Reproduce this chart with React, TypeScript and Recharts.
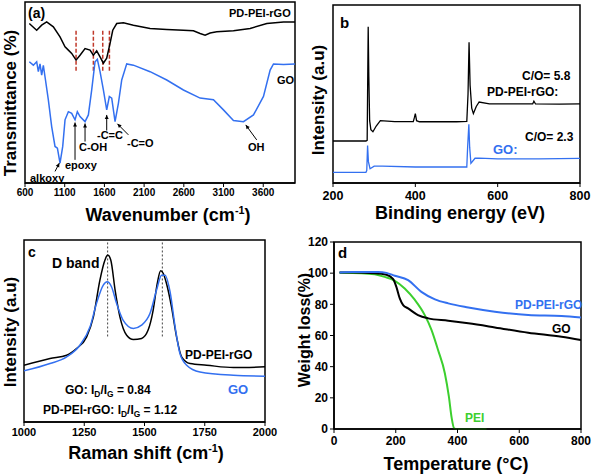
import React from 'react';
import { LineChart, Line, XAxis, YAxis, ReferenceLine, ReferenceArea } from 'recharts';

// (a) FTIR
const ftirRgoX = [654, 747, 810, 873, 957, 1041, 1104, 1146, 1188, 1243, 1293, 1356, 1419, 1461, 1503, 1545, 1587, 1629, 1671, 1705, 1755, 1839, 1965, 2175, 2385, 2595, 2721, 2805, 2868, 2931, 3015, 3225, 3435, 3645, 3855, 4000];
const ftirRgoY = [88.1, 84.4, 87.2, 89.0, 86.3, 80.7, 75.2, 73.4, 71.6, 67.9, 70.6, 74.3, 73.4, 70.6, 73.0, 69.7, 66.2, 69.0, 77.1, 84.4, 88.1, 88.5, 87.2, 85.4, 84.8, 84.4, 84.1, 82.6, 81.7, 82.9, 83.5, 84.1, 85.4, 88.1, 89.0, 89.0];
const ftirGoX = [654, 705, 747, 768, 789, 810, 831, 852, 894, 936, 978, 1008, 1041, 1075, 1104, 1146, 1188, 1230, 1259, 1293, 1356, 1398, 1440, 1482, 1511, 1545, 1587, 1629, 1662, 1692, 1734, 1776, 1818, 1881, 1965, 2175, 2385, 2595, 2805, 2973, 3099, 3225, 3351, 3477, 3603, 3687, 3729, 3855, 4000];
const ftirGoY = [67.0, 65.1, 67.0, 61.5, 65.8, 59.6, 65.0, 58.7, 45.9, 31.2, 20.2, 19.3, 11.0, 20.2, 34.9, 39.4, 38.5, 34.9, 39.4, 36.7, 33.9, 37.6, 51.4, 67.0, 68.3, 61.5, 51.4, 40.4, 47.8, 46.9, 33.9, 44.0, 56.9, 65.8, 65.1, 61.5, 56.9, 51.4, 46.9, 46.0, 40.4, 34.5, 33.9, 37.6, 47.8, 62.4, 65.8, 65.5, 65.8];
const ftirTicks = [600, 1100, 1600, 2100, 2600, 3100, 3600];
const ftirMarks = [1243, 1461, 1579, 1663];
// arrows: [x1, y1, x2, y2]
const ftirArrows = [
  [978, 6.4, 1033, 11.0],
  [1230, 12.8, 1230, 33.4],
  [1356, 22.9, 1356, 32.9],
  [1629, 29.0, 1629, 37.6],
  [1902, 26.6, 1764, 32.7],
  [3518, 23.8, 3380, 32.1],
];

// (b) XPS
const xpsRgoX = [200, 280, 283, 284, 285.5, 287, 289, 292, 297, 305, 315, 350, 395, 398, 400, 403, 410, 500, 525, 528, 530.5, 533, 537, 541, 548, 555, 580, 650, 685, 688, 692, 750, 800];
const xpsRgoY = [23.6, 23.6, 24, 50, 87.8, 60, 35, 30, 28.8, 32, 35, 34.5, 34.5, 37, 39, 35, 34.4, 34.4, 34.6, 50, 79, 55, 42, 39, 43, 45.5, 44.5, 44.4, 44.4, 46, 44.4, 44.3, 44.4];
const xpsGoX = [200, 280, 282, 284, 286, 290, 300, 320, 400, 500, 525, 527, 530, 532, 535, 545, 555, 600, 700, 800];
const xpsGoY = [6, 6, 7, 21, 12, 8, 9.5, 9.5, 9, 9, 9, 20, 33, 20, 11, 13.9, 14, 13.5, 13.5, 13.8];
const xpsTicks = [200, 400, 600, 800];

// (c) Raman
const ramRgoX = [1000, 1108, 1177, 1218, 1260, 1288, 1315, 1336, 1347, 1360, 1378, 1398, 1426, 1454, 1488, 1515, 1536, 1553, 1567, 1578, 1591, 1612, 1633, 1654, 1689, 1758, 1869, 2000];
const ramRgoY = [31.2, 34.9, 36.7, 40.4, 46.8, 57.8, 78.0, 89.0, 91.7, 89.0, 72.5, 57.8, 47.7, 45.3, 45.9, 50.5, 61.5, 76.2, 83.1, 81.6, 76.2, 63.3, 46.8, 35.8, 32.1, 31.2, 29.9, 30.3];
const ramGoX = [1000, 1108, 1177, 1232, 1274, 1301, 1329, 1345, 1363, 1384, 1411, 1454, 1488, 1523, 1550, 1571, 1585, 1606, 1627, 1647, 1675, 1730, 1869, 2000];
const ramGoY = [28.1, 32.1, 35.8, 42.2, 52.3, 65.2, 75.2, 77.0, 74.3, 65.2, 56.0, 51.4, 53.2, 59.7, 72.5, 80.7, 80.7, 71.6, 52.3, 37.6, 31.2, 27.5, 25.7, 25.2];
const ramTicks = [1000, 1250, 1500, 1750, 2000];
const ramBands = [1347, 1574];

// (d) TGA
const tgaRgoX = [18, 62, 143, 170, 197, 240, 283, 327, 370, 435, 521, 629, 737, 800];
const tgaRgoY = [100.5, 100.8, 100.8, 100.2, 98.3, 95.5, 88.0, 83.2, 80.6, 78.0, 75.3, 73.1, 72.5, 71.6];
const tgaGoX = [18, 62, 132, 170, 191, 202, 213, 224, 240, 272, 305, 370, 435, 521, 629, 737, 800];
const tgaGoY = [100.4, 100.4, 100, 99, 96.3, 91.2, 83.8, 79.5, 77.4, 73.1, 71.0, 69.5, 67.8, 65.2, 61.8, 59.2, 57.1];
const tgaPeiX = [18, 89, 132, 164, 197, 229, 262, 294, 316, 337, 359, 372, 381, 389, 397, 494];
const tgaPeiY = [100.2, 100, 99.3, 97.6, 95.1, 90.2, 82.8, 73.1, 63.5, 50.7, 35.8, 20.9, 7.3, 0.5, 0, 0];
const tgaXTicks = [0, 200, 400, 600, 800];
const tgaYTicks = [0, 20, 40, 60, 80, 100, 120];

const BLUE = '#3370f0';
const GREEN = '#3ccf2e';
const FONT = '"Liberation Sans", Arial, sans-serif';

const zip = (xs: number[], ys: number[]) => xs.map((x, i) => ({ x, y: ys[i] }));

const axisLine = { stroke: '#000', strokeWidth: 1.5 };

const Arrow = (p: any) => {
  const { x1, y1, x2, y2 } = p;
  const a = Math.atan2(y2 - y1, x2 - x1);
  const h = 4.5;
  const pts = [
    [x2, y2],
    [x2 - h * Math.cos(a - 0.45), y2 - h * Math.sin(a - 0.45)],
    [x2 - h * Math.cos(a + 0.45), y2 - h * Math.sin(a + 0.45)],
  ];
  return (
    <g>
      <line x1={x1} y1={y1} x2={x2} y2={y2} stroke="#000" strokeWidth={1} />
      <polygon points={pts.map((q) => q.join(',')).join(' ')} fill="#000" />
    </g>
  );
};

const Txt = ({ x, y, size, color = '#000', children }: any) => (
  <div style={{ position: 'absolute', left: x, top: y - size / 2, fontSize: size, lineHeight: 1, color, fontWeight: 'bold', whiteSpace: 'nowrap' }}>
    {children}
  </div>
);

const VTxt = ({ x, y, size, children }: any) => (
  <div style={{ position: 'absolute', left: x, top: y, fontSize: size, lineHeight: 1, fontWeight: 'bold', whiteSpace: 'nowrap', transform: 'translate(-50%, -50%) rotate(-90deg)' }}>
    {children}
  </div>
);

const HTxt = ({ x, y, size, children }: any) => (
  <div style={{ position: 'absolute', left: x, top: y, fontSize: size, lineHeight: 1, fontWeight: 'bold', whiteSpace: 'nowrap', transform: 'translate(-50%, -50%)' }}>
    {children}
  </div>
);

const sup = { fontSize: '0.6em', verticalAlign: 'super' as const };
const sub = { fontSize: '0.7em', verticalAlign: 'sub' as const };

// box around the plot area, drawn in data coordinates
const frame = (xd: number[], yd: number[]) => (
  <ReferenceArea x1={xd[0]} x2={xd[1]} y1={yd[0]} y2={yd[1]} fill="none" fillOpacity={0} stroke="#000" strokeWidth={1.5} ifOverflow="visible" />
);

const App = () => {
  const tick = (size: number) => ({ fontSize: size, fontWeight: 'bold', fill: '#000', fontFamily: FONT });
  return (
    <div style={{ position: 'absolute', left: 0, top: 0, width: 592, height: 474, background: '#fff', fontFamily: FONT, overflow: 'hidden' }}>
      {/* (a) */}
      <div style={{ position: 'absolute', left: 0, top: 0 }}>
        <LineChart width={300} height={230} margin={{ top: 2, right: 5, bottom: 27, left: 25 }}>
          <XAxis dataKey="x" type="number" domain={[600, 4000]} ticks={ftirTicks} allowDataOverflow height={20} axisLine={axisLine} tickLine={{ stroke: '#000' }} tickSize={4} tickMargin={2} tick={tick(10)} />
          <YAxis type="number" domain={[0, 100]} width={0} tick={false} tickLine={false} axisLine={axisLine} />
          {frame([600, 4000], [0, 100])}
          {ftirMarks.map((m) => (
            <ReferenceLine key={m} segment={[{ x: m, y: 62 }, { x: m, y: 85 }]} stroke="#c0392b" strokeWidth={1.5} strokeDasharray="4 2" />
          ))}
          {ftirArrows.map((a, i) => (
            <ReferenceLine key={'ar' + i} segment={[{ x: a[0], y: a[1] }, { x: a[2], y: a[3] }]} shape={Arrow} />
          ))}
          <Line data={zip(ftirRgoX, ftirRgoY)} dataKey="y" stroke="#000" strokeWidth={1.5} dot={false} isAnimationActive={false} type="linear" />
          <Line data={zip(ftirGoX, ftirGoY)} dataKey="y" stroke={BLUE} strokeWidth={1.5} dot={false} isAnimationActive={false} type="linear" />
        </LineChart>
      </div>
      <Txt x={28} y={13} size={14}>(a)</Txt>
      <Txt x={229} y={13} size={11}>PD-PEI-rGO</Txt>
      <Txt x={277} y={80} size={11}>GO</Txt>
      <Txt x={30} y={178} size={11}>alkoxy</Txt>
      <Txt x={65} y={165} size={11}>epoxy</Txt>
      <Txt x={79} y={147} size={11}>C-OH</Txt>
      <Txt x={97} y={135} size={11}>-C=C</Txt>
      <Txt x={127} y={143} size={11}>-C=O</Txt>
      <Txt x={248} y={147} size={11}>OH</Txt>
      <VTxt x={10} y={103} size={17}>Transmittance (%)</VTxt>
      <HTxt x={168} y={214} size={18}>Wavenumber (cm<span style={sup}>-1</span>)</HTxt>

      {/* (b) */}
      <div style={{ position: 'absolute', left: 295, top: 0 }}>
        <LineChart width={297} height={230} margin={{ top: 5, right: 12, bottom: 27, left: 38 }}>
          <XAxis dataKey="x" type="number" domain={[200, 800]} ticks={xpsTicks} allowDataOverflow height={20} axisLine={axisLine} tickLine={{ stroke: '#000' }} tickSize={4} tickMargin={4} tick={tick(12.5)} />
          <YAxis type="number" domain={[0, 100]} width={0} tick={false} tickLine={false} axisLine={axisLine} />
          {frame([200, 800], [0, 100])}
          <Line data={zip(xpsRgoX, xpsRgoY)} dataKey="y" stroke="#000" strokeWidth={1.3} dot={false} isAnimationActive={false} type="linear" />
          <Line data={zip(xpsGoX, xpsGoY)} dataKey="y" stroke={BLUE} strokeWidth={1.3} dot={false} isAnimationActive={false} type="linear" />
        </LineChart>
      </div>
      <Txt x={340} y={22} size={15}>b</Txt>
      <Txt x={522} y={76} size={12}>C/O= 5.8</Txt>
      <Txt x={487} y={92} size={12}>PD-PEI-rGO:</Txt>
      <Txt x={525} y={137} size={12}>C/O= 2.3</Txt>
      <Txt x={493} y={149} size={13} color={BLUE}>GO:</Txt>
      <VTxt x={318} y={100} size={17}>Intensity (a.u)</VTxt>
      <HTxt x={460} y={213} size={18}>Binding energy (eV)</HTxt>

      {/* (c) */}
      <div style={{ position: 'absolute', left: 0, top: 230 }}>
        <LineChart width={300} height={244} margin={{ top: 10, right: 35, bottom: 32, left: 24 }}>
          <XAxis dataKey="x" type="number" domain={[1000, 2000]} ticks={ramTicks} allowDataOverflow height={20} axisLine={axisLine} tickLine={{ stroke: '#000' }} tickSize={4} tickMargin={2} tick={tick(11)} />
          <YAxis type="number" domain={[0, 100]} width={0} tick={false} tickLine={false} axisLine={axisLine} />
          {frame([1000, 2000], [0, 100])}
          {ramBands.map((b) => (
            <ReferenceLine key={b} segment={[{ x: b, y: 47 }, { x: b, y: 100 }]} stroke="#444" strokeWidth={1} strokeDasharray="2 2" />
          ))}
          <Line data={zip(ramRgoX, ramRgoY)} dataKey="y" stroke="#000" strokeWidth={1.5} dot={false} isAnimationActive={false} type="monotone" />
          <Line data={zip(ramGoX, ramGoY)} dataKey="y" stroke={BLUE} strokeWidth={1.5} dot={false} isAnimationActive={false} type="monotone" />
        </LineChart>
      </div>
      <Txt x={28} y={252} size={14}>c</Txt>
      <Txt x={52} y={263} size={14}>D band</Txt>
      <Txt x={185} y={355} size={12}>PD-PEI-rGO</Txt>
      <Txt x={228} y={389} size={13} color={BLUE}>GO</Txt>
      <Txt x={65} y={390} size={12}>GO: I<span style={sub}>D</span>/I<span style={sub}>G</span> = 0.84</Txt>
      <Txt x={43} y={410} size={12}>PD-PEI-rGO: I<span style={sub}>D</span>/I<span style={sub}>G</span> = 1.12</Txt>
      <VTxt x={10} y={332} size={17}>Intensity (a.u)</VTxt>
      <HTxt x={146} y={452} size={18}>Raman shift (cm<span style={sup}>-1</span>)</HTxt>

      {/* (d) */}
      <div style={{ position: 'absolute', left: 295, top: 230 }}>
        <LineChart width={297} height={244} margin={{ top: 12, right: 11, bottom: 25, left: 9 }}>
          <XAxis dataKey="x" type="number" domain={[0, 800]} ticks={tgaXTicks} allowDataOverflow height={20} axisLine={axisLine} tickLine={{ stroke: '#000' }} tickSize={4} tickMargin={3} tick={tick(12)} />
          <YAxis type="number" domain={[0, 120]} ticks={tgaYTicks} width={30} axisLine={axisLine} tickLine={{ stroke: '#000' }} tickSize={4} tickMargin={2} tick={tick(12)} />
          {frame([0, 800], [0, 120])}
          <Line data={zip(tgaPeiX, tgaPeiY)} dataKey="y" stroke={GREEN} strokeWidth={2} dot={false} isAnimationActive={false} type="monotone" />
          <Line data={zip(tgaGoX, tgaGoY)} dataKey="y" stroke="#000" strokeWidth={2} dot={false} isAnimationActive={false} type="monotone" />
          <Line data={zip(tgaRgoX, tgaRgoY)} dataKey="y" stroke={BLUE} strokeWidth={2} dot={false} isAnimationActive={false} type="monotone" />
        </LineChart>
      </div>
      <Txt x={338} y={252} size={15}>d</Txt>
      <Txt x={515} y={305} size={12} color={BLUE}>PD-PEI-rGO</Txt>
      <Txt x={552} y={329} size={12}>GO</Txt>
      <Txt x={465} y={418} size={12} color={GREEN}>PEI</Txt>
      <VTxt x={305} y={330} size={16}>Weight loss(%)</VTxt>
      <HTxt x={456} y={464} size={18}>Temperature (°C)</HTxt>
    </div>
  );
};

export default App;
